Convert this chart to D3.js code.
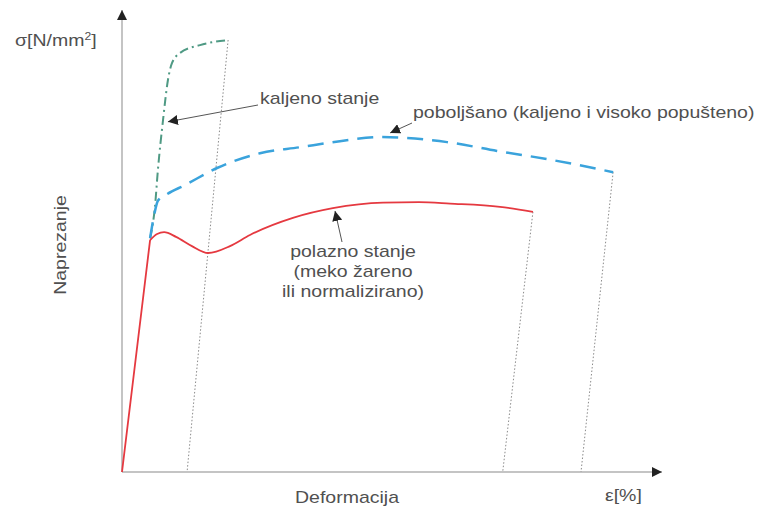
<!DOCTYPE html>
<html>
<head>
<meta charset="utf-8">
<script src="https://cdn.jsdelivr.net/npm/d3@7"></script>
<style>
  body { margin: 0; background: #fff; }
  svg { display: block; font-family: "Liberation Sans", Arial, sans-serif; }
  .lbl { fill: #505050; font-size: 16px; }
</style>
</head>
<body>
<svg id="chart" width="760" height="513"></svg>
<script>
// strain [%] / stress [N/mm2]
const polazno = [[0, 0], [1.04, 502], [1.30, 515], [1.56, 519], [2.00, 509], [2.59, 489], [3.19, 474],
  [4.00, 489], [4.74, 513], [6.33, 550], [7.81, 571], [9.67, 583], [11.0, 584], [12.15, 581], [14.0, 574], [15.22, 563]];
const poboljsano = [[1.04, 506], [1.19, 556], [1.33, 587], [1.63, 600], [2.33, 621], [3.52, 658], [5.11, 690],
  [6.59, 703], [8.07, 716], [9.56, 725], [12.04, 714], [13.89, 695], [15.96, 675], [18.19, 649]];
const kaljeno = [[1.04, 506], [1.22, 574], [1.33, 654], [1.52, 762], [1.70, 848], [1.85, 885], [2.15, 907],
  [2.89, 924], [3.93, 935]];

// elastic unloading back to the strain axis
const unloadPolazno = [[15.22, 563], [14.1, 0]];
const unloadPoboljsano = [[18.19, 649], [17.0, 0]];
const unloadKaljeno = [[3.93, 935], [2.41, 0]];

let svg = d3.select("#chart");

let x = d3.scaleLinear().domain([0, 20]).range([122, 662]);
let y = d3.scaleLinear().domain([0, 1000]).range([472, 10]);

let defs = svg.append("defs");
defs.append("marker")
  .attr("id", "tip")
  .attr("viewBox", "0 0 10 10")
  .attr("refX", 10).attr("refY", 5)
  .attr("markerWidth", 10).attr("markerHeight", 10)
  .attr("markerUnits", "userSpaceOnUse")
  .attr("orient", "auto")
  .append("path")
  .attr("d", "M0,0 L10,5 L0,10 z")
  .attr("fill", "#222");

// axes with arrows
svg.append("line")
  .attr("x1", x(0)).attr("y1", y(0))
  .attr("x2", x(20)).attr("y2", y(0))
  .attr("stroke", "#c4c4c4").attr("stroke-width", 2)
  .attr("marker-end", "url(#tip)");

svg.append("line")
  .attr("x1", x(0)).attr("y1", y(0))
  .attr("x2", x(0)).attr("y2", y(1000))
  .attr("stroke", "#c4c4c4").attr("stroke-width", 2)
  .attr("marker-end", "url(#tip)");

let line = d3.line()
  .x(d => x(d[0]))
  .y(d => y(d[1]))
  .curve(d3.curveMonotoneX);

let straight = d3.line()
  .x(d => x(d[0]))
  .y(d => y(d[1]));

[unloadPolazno, unloadPoboljsano, unloadKaljeno].forEach(function(u) {
  svg.append("path")
    .attr("d", straight(u))
    .attr("fill", "none")
    .attr("stroke", "#8a8a8a")
    .attr("stroke-width", 1)
    .attr("stroke-dasharray", "1.5,2");
});

svg.append("path")
  .attr("d", line(kaljeno))
  .attr("fill", "none")
  .attr("stroke", "#4f9a84")
  .attr("stroke-width", 2)
  .attr("stroke-dasharray", "9,4,2,4");

svg.append("path")
  .attr("d", line(poboljsano))
  .attr("fill", "none")
  .attr("stroke", "#3aa3dc")
  .attr("stroke-width", 2.5)
  .attr("stroke-dasharray", "16,9");

// elastic part straight, plastic part smooth
svg.append("path")
  .attr("d", straight(polazno.slice(0, 2)) + line(polazno.slice(1)))
  .attr("fill", "none")
  .attr("stroke", "#e53940")
  .attr("stroke-width", 1.8);

// annotation arrows
let notes = [
  {from: [258, 105], to: [1.70, 758]},
  {from: [412, 123], to: [9.93, 734]},
  {from: [342, 242], to: [7.89, 565]}
];
notes.forEach(function(n) {
  svg.append("line")
    .attr("x1", n.from[0]).attr("y1", n.from[1])
    .attr("x2", x(n.to[0])).attr("y2", y(n.to[1]))
    .attr("stroke", "#555").attr("stroke-width", 1)
    .attr("marker-end", "url(#tip)");
});

// texts: the lettering in the picture is wide, so stretch it a bit
let label = function(px, py, rot, size, anchor) {
  return svg.append("text").attr("class", "lbl")
    .attr("transform", "translate(" + px + "," + py + ") rotate(" + rot + ") scale(1.22,1)")
    .attr("font-size", size)
    .attr("text-anchor", anchor);
};

label(15, 46, 0, 16, "start")
  .html('σ[N/mm<tspan dy="-6" font-size="10">2</tspan><tspan dy="6">]</tspan>');
label(66, 245, -90, 16, "middle").text("Naprezanje");
label(347, 503, 0, 17, "middle").text("Deformacija");
label(605, 501, 0, 17, "start").text("ε[%]");

label(260, 104, 0, 16, "start").text("kaljeno stanje");
label(413, 118, 0, 16, "start").text("poboljšano (kaljeno i visoko popušteno)");

["polazno stanje", "(meko žareno", "ili normalizirano)"].forEach(function(t, i) {
  label(353, 257 + i * 20, 0, 16, "middle").text(t);
});
</script>
</body>
</html>
